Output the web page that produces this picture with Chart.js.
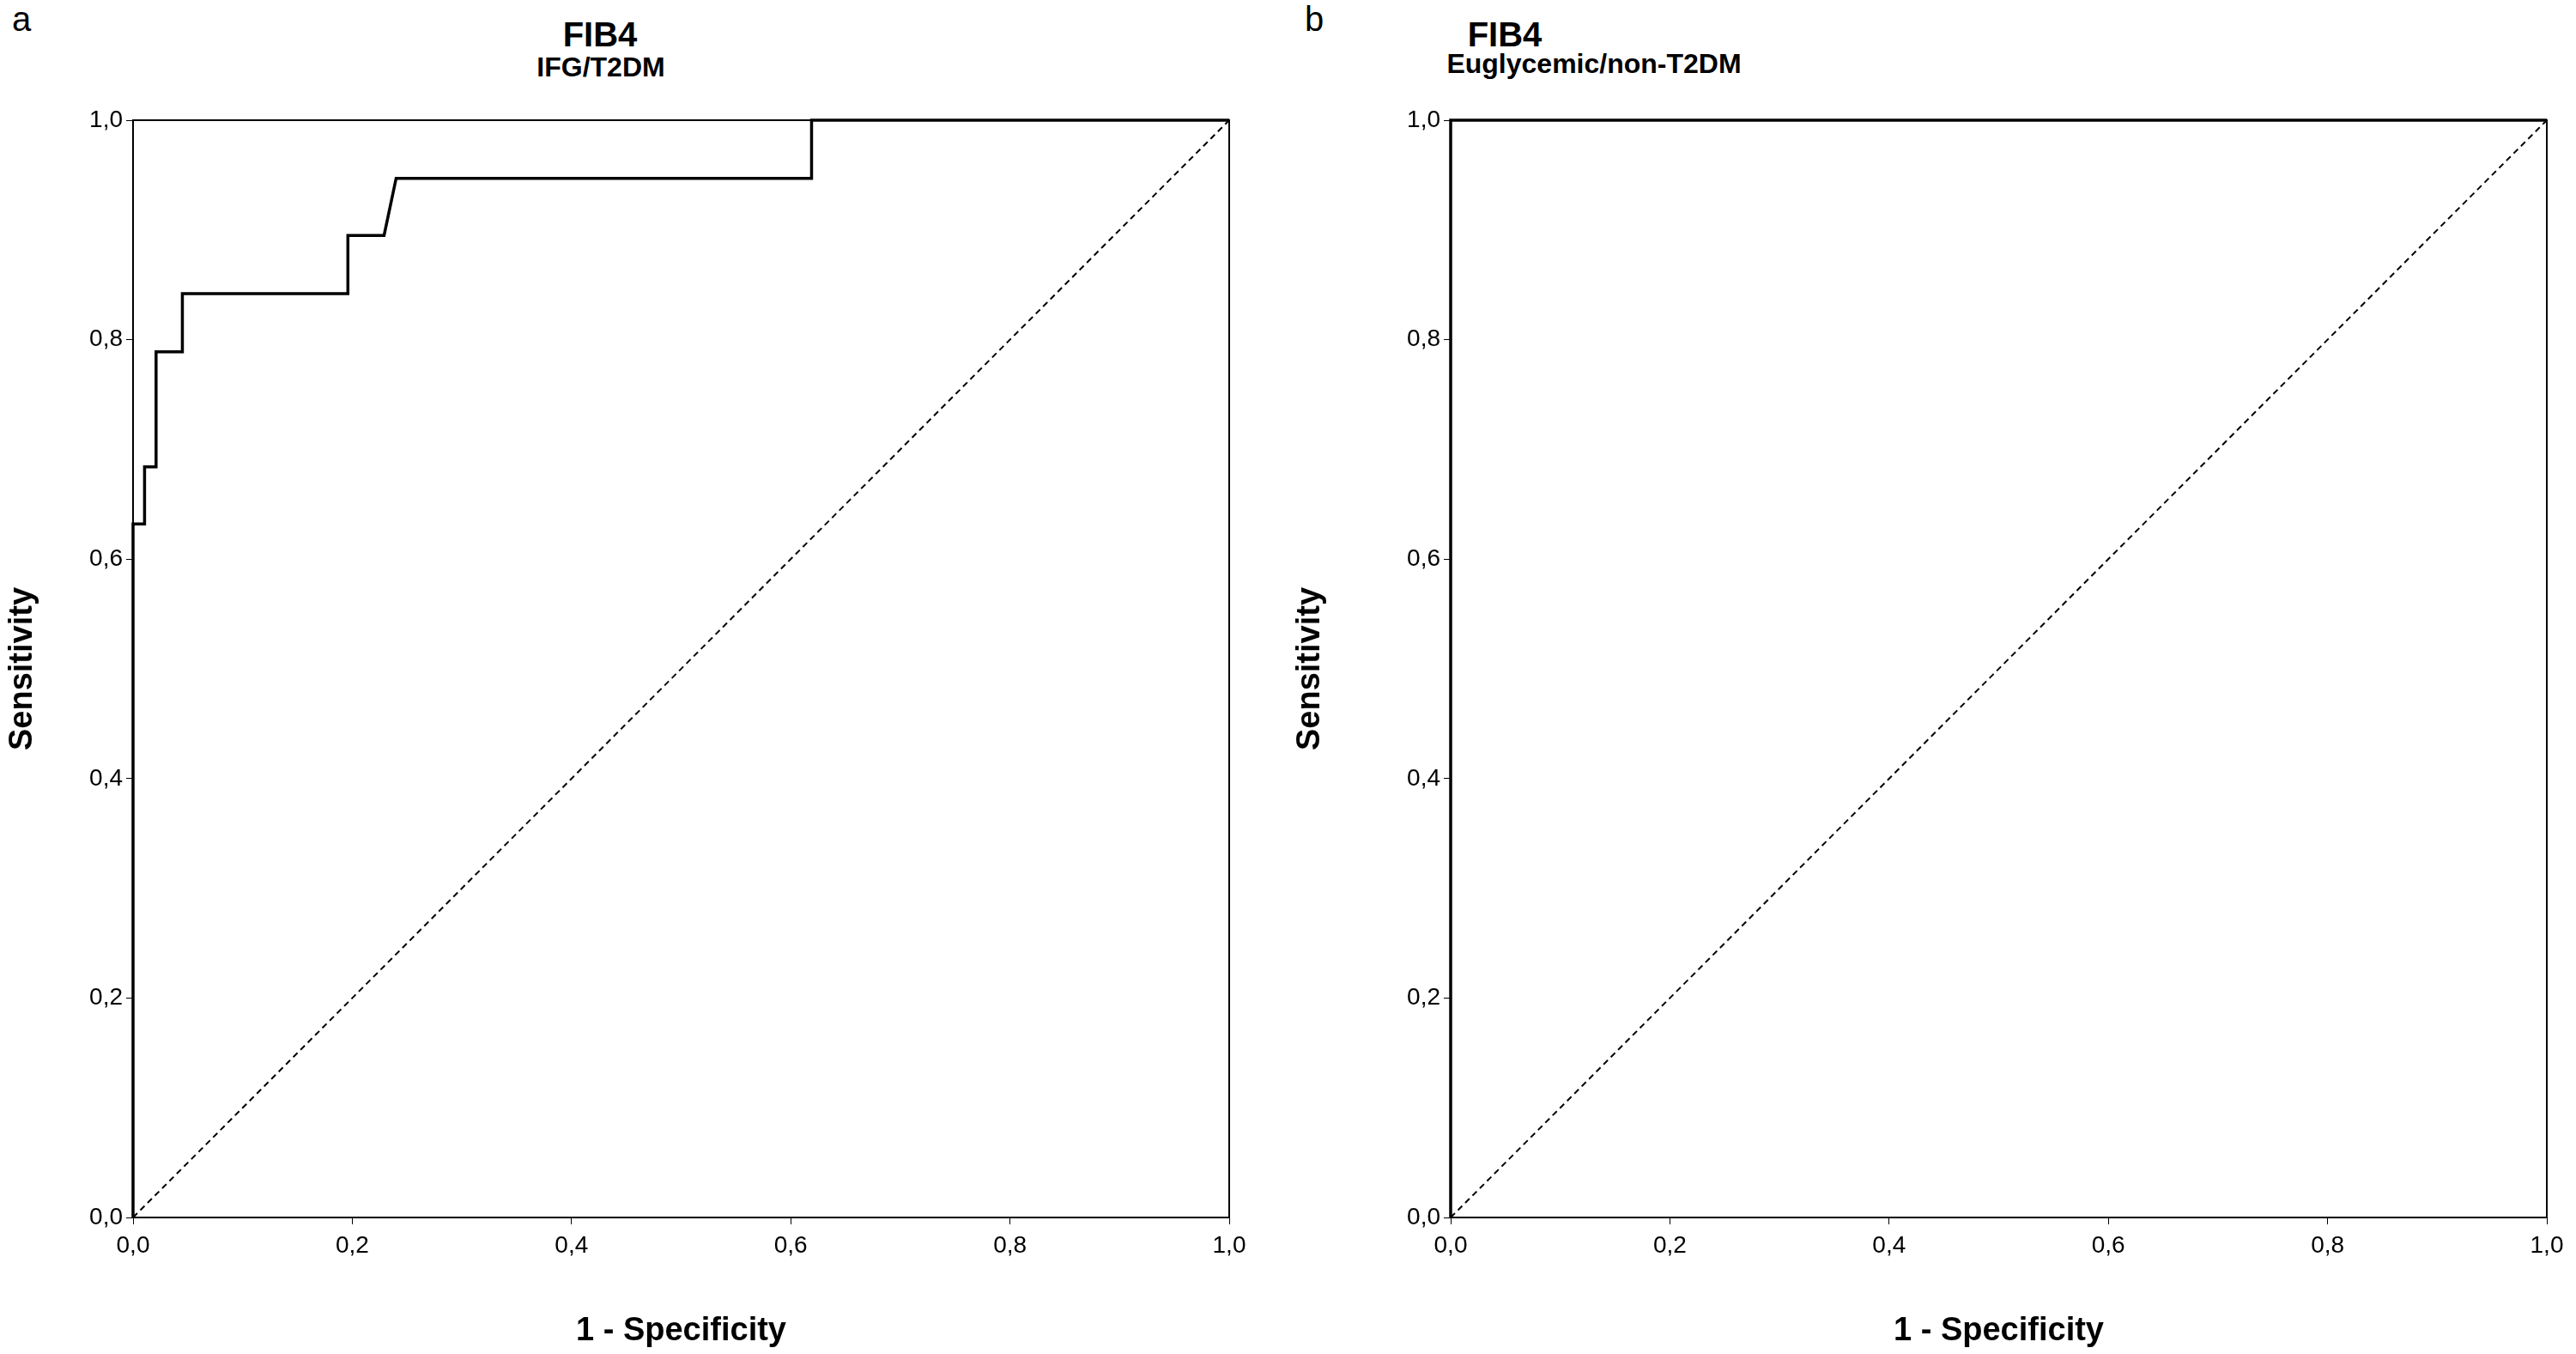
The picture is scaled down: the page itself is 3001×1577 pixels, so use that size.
<!DOCTYPE html>
<html><head><meta charset="utf-8">
<script src="https://cdn.jsdelivr.net/npm/chart.js@4"></script>
<style>
body{margin:0;width:3001px;height:1577px;background:#fff;position:relative;overflow:hidden;font-family:'Liberation Sans Narrow','Liberation Sans',Arial,sans-serif}
.t{position:absolute;color:#000;white-space:nowrap;transform:translateX(-50%)}
canvas{position:absolute;top:0}
</style></head><body>
<div class="t" style="left:14px;top:0;font-family:'Liberation Sans';font-size:40px;transform:none">a</div>
<div class="t" style="left:1531px;top:0;font-family:'Liberation Sans';font-size:40px">b</div>
<div class="t" style="left:699px;top:18px;font-size:40px;font-weight:bold">FIB4</div>
<div class="t" style="left:700px;top:60px;font-size:32px;font-weight:bold">IFG/T2DM</div>
<div class="t" style="left:1753px;top:18px;font-size:40px;font-weight:bold">FIB4</div>
<div class="t" style="left:1857px;top:56px;font-size:32px;font-weight:bold">Euglycemic/non-T2DM</div>
<div style="position:absolute;left:0;top:0;width:1500px;height:1577px"><canvas id="ca"></canvas></div>
<div style="position:absolute;left:1500px;top:0;width:1501px;height:1577px"><canvas id="cb"></canvas></div>
<script>
const tickValues=[0,0.2,0.4,0.6,0.8,1.0];
const rocA_x=[0,0,0.0105,0.0105,0.021,0.021,0.045,0.045,0.196,0.196,0.229,0.240,0.619,0.619,1.0];
const rocA_y=[0,0.632,0.632,0.684,0.684,0.789,0.789,0.842,0.842,0.895,0.895,0.947,0.947,1.0,1.0];
const rocB_x=[0,0,1.0];
const rocB_y=[0,1.0,1.0];
const refX=[0,1.0];
const refY=[0,1.0];

const toPts=(xs,ys)=>xs.map((x,i)=>({x:x,y:ys[i]}));
const boxPlugin={id:'box',afterDatasetsDraw(c){const a=c.chartArea,g=c.ctx;g.save();g.strokeStyle='#000';g.lineWidth=2;g.strokeRect(a.left,a.top,a.right-a.left,a.bottom-a.top);g.restore();}};
const F="'Liberation Sans Narrow','Liberation Sans',Arial,sans-serif";
function make(id,xs,ys,yw,pr){
  const fmt=v=>tickValues.some(t=>Math.abs(t-v)<1e-6)?v.toFixed(1).replace('.',','):'';
  new Chart(document.getElementById(id),{type:'scatter',
    data:{datasets:[
      {data:toPts(refX,refY),showLine:true,borderColor:'#000',borderWidth:2,borderDash:[7,5],pointRadius:0},
      {data:toPts(xs,ys),showLine:true,borderColor:'#000',borderWidth:3.5,pointRadius:0,clip:false}
    ]},
    plugins:[boxPlugin],
    options:{responsive:true,maintainAspectRatio:false,animation:false,
      layout:{padding:{top:140,right:pr,left:0,bottom:0}},
      plugins:{legend:{display:false},tooltip:{enabled:false}},
      scales:{
        x:{type:'linear',min:0,max:1,afterFit:s=>{s.height=159},
          ticks:{stepSize:0.2,callback:fmt,color:'#000',font:{family:F,size:28},padding:8,maxRotation:0},
          grid:{drawOnChartArea:false,tickLength:8,color:'#000'},border:{color:'#000',width:2},
          title:{display:true,text:'1 - Specificity',color:'#000',font:{family:F,size:38,weight:'bold'},padding:{top:28}}},
        y:{type:'linear',min:0,max:1,afterFit:s=>{s.width=yw},
          ticks:{stepSize:0.2,callback:fmt,color:'#000',font:{family:F,size:28},padding:4},
          grid:{drawOnChartArea:false,tickLength:8,color:'#000'},border:{color:'#000',width:2},
          title:{display:true,text:'Sensitivity',color:'#000',font:{family:F,size:38,weight:'bold'},padding:{bottom:10}}}
      }}});
}
make('ca',rocA_x,rocA_y,155,68);
make('cb',rocB_x,rocB_y,190,34);
</script></body></html>
